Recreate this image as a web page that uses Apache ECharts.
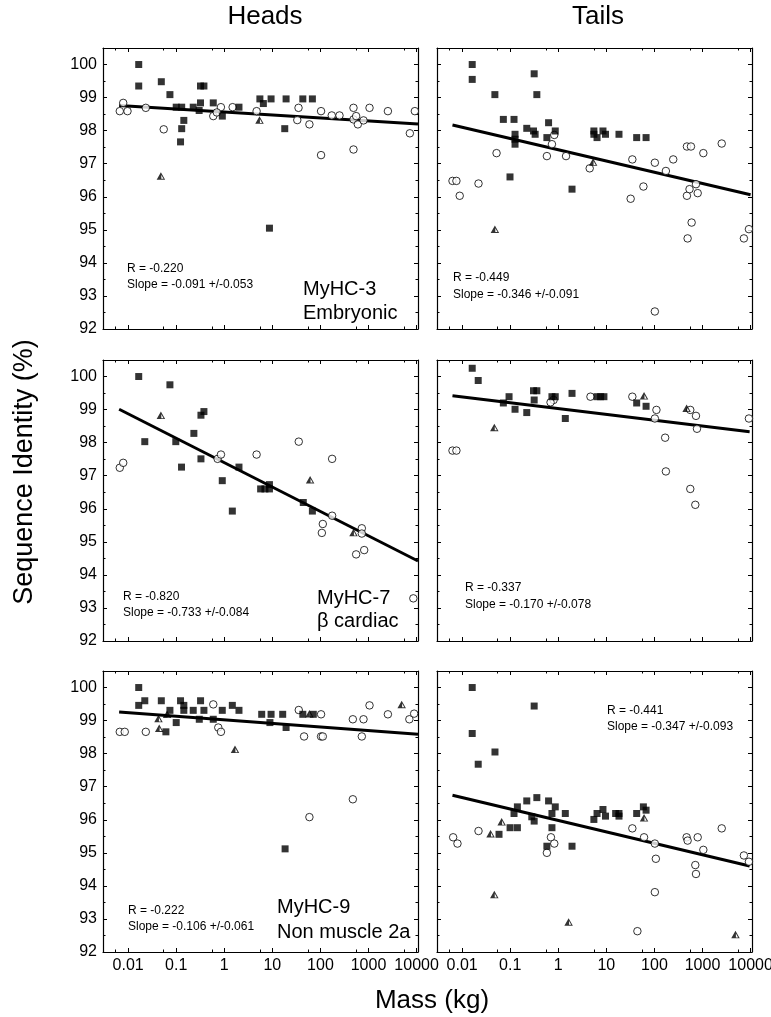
<!DOCTYPE html>
<html>
<head>
<meta charset="utf-8">
<title>Sequence identity vs mass</title>
<script src="https://cdn.jsdelivr.net/npm/echarts@6/dist/echarts.min.js"></script>
<style>
html, body { margin: 0; padding: 0; background: #fff; }
#chart { width: 771px; height: 1017px; }
</style>
</head>
<body>
<div id="chart"></div>
<script>
// values: [mass (kg), sequence identity (%)]

// MyHC-3 heads
var heads3Squares = [[0.0166,100.0],[0.0166,99.35],[0.049,99.48],[0.074,99.09],[0.10,98.71],[0.13,98.71],[0.13,98.06],[0.123,97.66],[0.144,98.31],[0.226,98.71],[0.30,98.61],[0.32,98.84],[0.32,99.35],[0.377,99.35],[0.59,98.84],[0.91,98.44],[2.02,98.71],[5.5,98.96],[6.5,98.82],[9.4,98.96],[8.7,95.05],[19.3,98.96],[18.1,98.06],[43,98.96],[68,98.96]];
var heads3Circles = [[0.0067,98.59],[0.0079,98.84],[0.0097,98.59],[0.0233,98.69],[0.055,98.04],[0.59,98.44],[0.85,98.71],[0.70,98.55],[1.49,98.71],[4.7,98.59],[35,98.69],[33,98.32],[59,98.19],[103,98.59],[103,97.26],[172,98.46],[249,98.46],[487,98.69],[487,98.34],[487,97.43],[553,98.44],[600,98.19],[787,98.31],[1050,98.69],[2530,98.59],[7240,97.92],[9200,98.59]];
var heads3Triangles = [[0.048,96.63],[5.4,98.32]];
var heads3Fit = [[0.0065,98.76],[10700,98.2]];

// MyHC-3 tails
var tails3Squares = [[0.0162,100.0],[0.0162,99.55],[0.048,99.09],[0.072,98.34],[0.12,98.34],[0.099,96.60],[0.126,97.89],[0.126,97.74],[0.126,97.59],[0.221,98.07],[0.305,97.99],[0.315,99.72],[0.33,97.89],[0.358,99.09],[0.628,98.24],[0.579,97.79],[0.865,97.99],[1.93,96.23],[5.5,97.99],[6.4,97.79],[5.5,97.89],[8.5,97.99],[9.6,97.89],[18.3,97.89],[42.7,97.79],[67,97.79]];
var tails3Circles = [[0.0063,96.48],[0.0076,96.48],[0.0089,96.03],[0.0219,96.40],[0.052,97.32],[0.579,97.23],[0.738,97.59],[0.825,97.87],[1.45,97.23],[4.5,96.86],[32,95.94],[34.7,97.13],[59,96.31],[102,97.03],[102,92.53],[173,96.78],[246,97.13],[474,97.52],[575,97.52],[474,96.03],[537,96.23],[594,95.22],[490,94.74],[731,96.38],[794,96.11],[1040,97.32],[2510,97.61],[7260,94.74],[9230,95.02]];
var tails3Triangles = [[0.048,95.02],[5.3,97.05]];
var tails3Fit = [[0.0063,98.17],[10000,96.06]];

// MyHC-7 heads
var heads7Squares = [[0.0166,100.0],[0.074,99.75],[0.0222,98.03],[0.098,98.03],[0.129,97.26],[0.233,98.28],[0.327,98.83],[0.377,98.94],[0.327,97.51],[0.908,96.85],[1.47,95.93],[2.02,97.26],[5.7,96.6],[7.0,96.6],[8.7,96.73],[8.7,96.6],[44,96.19],[68,95.93]];
var heads7Circles = [[0.0067,97.24],[0.0079,97.39],[0.726,97.51],[0.853,97.64],[4.7,97.64],[35.4,98.03],[175,97.51],[175,95.79],[112,95.54],[107,95.27],[553,94.62],[726,95.41],[726,95.25],[813,94.75],[8560,93.29]];
var heads7Triangles = [[0.048,98.83],[61,96.88],[487,95.28]];
var heads7Fit = [[0.0065,99.01],[10700,94.42]];

// MyHC-7 tails
var tails7Squares = [[0.0162,100.25],[0.0216,99.88],[0.072,99.20],[0.0946,99.39],[0.126,99.01],[0.221,98.91],[0.305,99.57],[0.358,99.57],[0.315,99.29],[0.738,99.39],[0.865,99.39],[1.40,98.73],[1.93,99.49],[6.4,99.39],[7.6,99.39],[8.9,99.39],[42.7,99.20],[67,99.10]];
var tails7Circles = [[0.0063,97.76],[0.0076,97.76],[0.798,99.29],[0.69,99.22],[4.67,99.39],[34.7,99.39],[110,98.99],[102,98.73],[167,98.15],[173,97.13],[557,98.99],[731,98.81],[767,98.42],[557,96.60],[708,96.12],[9230,98.73]];
var tails7Triangles = [[0.0467,98.46],[60.8,99.42],[467,99.04]];
var tails7Fit = [[0.0063,99.42],[9550,98.33]];

// MyHC-9 heads
var heads9Squares = [[0.0166,100.0],[0.0166,99.46],[0.0222,99.60],[0.049,99.60],[0.061,98.66],[0.074,99.31],[0.10,98.94],[0.123,99.60],[0.144,99.46],[0.144,99.31],[0.226,99.31],[0.321,99.60],[0.302,99.04],[0.377,99.31],[0.59,99.04],[0.908,99.31],[1.47,99.46],[2.02,99.31],[6.0,99.19],[9.4,99.19],[8.9,98.94],[16.4,99.19],[19.3,98.79],[18.4,95.12],[43,99.19],[71,99.19]];
var heads9Circles = [[0.0067,98.66],[0.0085,98.66],[0.0233,98.66],[0.59,99.49],[0.75,98.79],[0.853,98.66],[35.4,99.32],[45.7,98.52],[103,99.19],[103,98.52],[112,98.52],[59,96.08],[472,99.04],[472,96.62],[787,99.04],[726,98.52],[1050,99.46],[2530,99.19],[7070,99.04],[8900,99.21]];
var heads9Triangles = [[0.0428,99.06],[0.0443,98.77],[0.0646,99.19],[1.67,98.13],[59,99.21],[4900,99.49]];
var heads9Fit = [[0.0065,99.26],[10700,98.59]];

// MyHC-9 tails
var tails9Squares = [[0.0162,100.0],[0.0162,98.61],[0.0216,97.68],[0.0482,98.05],[0.315,99.44],[0.0585,95.56],[0.0993,95.76],[0.141,95.76],[0.120,96.19],[0.141,96.39],[0.221,96.57],[0.281,96.09],[0.315,95.96],[0.358,96.67],[0.628,96.57],[0.738,96.19],[0.865,96.39],[0.738,95.76],[0.579,95.20],[1.40,96.19],[1.93,95.20],[5.5,96.01],[6.4,96.19],[8.5,96.31],[9.6,96.11],[15.6,96.19],[18.3,96.19],[18.3,96.11],[42.7,96.19],[58.9,96.39],[67,96.29]];
var tails9Circles = [[0.0065,95.47],[0.008,95.28],[0.0219,95.66],[0.703,95.47],[0.825,95.28],[0.579,95.0],[34.7,95.74],[60.8,95.47],[102,95.28],[107,94.82],[102,93.81],[44.2,92.63],[467,95.47],[490,95.37],[794,95.47],[708,94.63],[731,94.36],[1040,95.09],[2510,95.74],[7260,94.92],[9230,94.73]];
var tails9Triangles = [[0.039,95.58],[0.0664,95.94],[0.0467,93.74],[1.64,92.91],[60.8,96.06],[4850,92.53]];
var tails9Fit = [[0.0063,96.74],[9550,94.60]];

var columnTitles = ['Heads', 'Tails'];
var rStats = ['R = -0.220', 'R = -0.449', 'R = -0.820', 'R = -0.337', 'R = -0.222', 'R = -0.441'];
var slopeStats = ['Slope = -0.091 +/-0.053', 'Slope = -0.346 +/-0.091', 'Slope = -0.733 +/-0.084',
                  'Slope = -0.170 +/-0.078', 'Slope = -0.106 +/-0.061', 'Slope = -0.347 +/-0.093'];
var geneLabels = [['MyHC-3', 'Embryonic'], ['MyHC-7', 'β cardiac'], ['MyHC-9', 'Non muscle 2a']];

var panels = [
	{squares: heads3Squares, circles: heads3Circles, triangles: heads3Triangles, fit: heads3Fit},
	{squares: tails3Squares, circles: tails3Circles, triangles: tails3Triangles, fit: tails3Fit},
	{squares: heads7Squares, circles: heads7Circles, triangles: heads7Triangles, fit: heads7Fit},
	{squares: tails7Squares, circles: tails7Circles, triangles: tails7Triangles, fit: tails7Fit},
	{squares: heads9Squares, circles: heads9Circles, triangles: heads9Triangles, fit: heads9Fit},
	{squares: tails9Squares, circles: tails9Circles, triangles: tails9Triangles, fit: tails9Fit}
];

var FONT = '"Liberation Sans", Arial, Helvetica, sans-serif';
var colLeft = [103, 437];
var colWidth = 315;
var rowTop = [48, 360, 671];
var rowHeight = 281;

// half filled triangle: black left half, open right half with outline
var triPath = 'path://M5,0L10,10L0,10Z M5.5,3.7L5.5,8.9L8.1,8.9Z';

var statPos = [[127, 269, 285], [453, 278, 295], [123, 597, 613], [465, 588, 605], [128, 911, 927], [607, 711, 727]];
var genePos = [[303, 289, 313], [317, 598, 621], [277, 907, 932]];

function fmtMass(v) {
	return String(+Number(v).toPrecision(3));
}

var grids = [], xAxes = [], yAxes = [], series = [];
var black = '#000';

panels.forEach(function(p, i) {
	var row = Math.floor(i / 2), col = i % 2;
	grids.push({left: colLeft[col], top: rowTop[row], width: colWidth, height: rowHeight,
		containLabel: false, outerBoundsMode: 'none'});

	['bottom', 'top'].forEach(function(pos) {
		xAxes.push({
			gridIndex: i, type: 'log', logBase: 10, min: 0.003, max: 10700, position: pos,
			axisLine: {show: true, onZero: false, lineStyle: {color: black, width: 1.2}},
			axisTick: {show: true, inside: true, length: 4, lineStyle: {color: black, width: 1}},
			minorTick: {show: true, splitNumber: 2, length: 2.5, lineStyle: {color: black, width: 1}},
			splitLine: {show: false},
			axisLabel: {show: pos === 'bottom' && row === 2, interval: 0, showMinLabel: false, showMaxLabel: false,
				fontFamily: FONT, fontSize: 16, color: black, margin: 6, formatter: fmtMass}
		});
	});
	['left', 'right'].forEach(function(pos) {
		yAxes.push({
			gridIndex: i, type: 'value', min: 92, max: 100.5, interval: 1, position: pos,
			axisLine: {show: true, onZero: false, lineStyle: {color: black, width: 1.2}},
			axisTick: {show: true, inside: true, length: 4, lineStyle: {color: black, width: 1}},
			minorTick: {show: true, splitNumber: 2, length: 2.5, lineStyle: {color: black, width: 1}},
			splitLine: {show: false},
			axisLabel: {show: pos === 'left' && col === 0, showMaxLabel: false,
				fontFamily: FONT, fontSize: 16, color: black, margin: 6,
				formatter: function(v) { return v % 1 === 0 ? String(v) : ''; }}
		});
	});

	var xi = 2 * i, yi = 2 * i;
	series.push({type: 'line', xAxisIndex: xi, yAxisIndex: yi, data: p.fit, symbol: 'none',
		lineStyle: {color: black, width: 3}, z: 2, silent: true});
	series.push({type: 'scatter', xAxisIndex: xi, yAxisIndex: yi, data: p.circles, symbol: 'circle',
		symbolSize: 7.5, itemStyle: {color: '#fff', borderColor: black, borderWidth: 1}, z: 3});
	series.push({type: 'scatter', xAxisIndex: xi, yAxisIndex: yi, data: p.squares, symbol: 'rect',
		symbolSize: 7, itemStyle: {color: black}, z: 4});
	series.push({type: 'scatter', xAxisIndex: xi, yAxisIndex: yi, data: p.triangles, symbol: triPath,
		symbolSize: [8.5, 7.5], itemStyle: {color: black}, z: 5});
});

var graphics = [];
function addText(txt, x, y, size, align, rot) {
	graphics.push({type: 'text', x: x, y: y, rotation: rot || 0, silent: true,
		style: {text: txt, fontFamily: FONT, fontSize: size, fill: black,
			align: align || 'left', verticalAlign: 'middle'}});
}
addText(columnTitles[0], 265, 17, 26, 'center');
addText(columnTitles[1], 598, 17, 26, 'center');
addText('Mass (kg)', 432, 1001, 26, 'center');
addText('Sequence Identity (%)', 25, 472, 27, 'center', Math.PI / 2);
rStats.forEach(function(t, i) {
	addText(t, statPos[i][0], statPos[i][1], 12);
	addText(slopeStats[i], statPos[i][0], statPos[i][2], 12);
});
geneLabels.forEach(function(g, i) {
	addText(g[0], genePos[i][0], genePos[i][1], 20);
	addText(g[1], genePos[i][0], genePos[i][2], 20);
});

var chart = echarts.init(document.getElementById('chart'), null, {renderer: 'canvas'});
chart.setOption({
	animation: false,
	backgroundColor: '#fff',
	grid: grids,
	xAxis: xAxes,
	yAxis: yAxes,
	series: series,
	graphic: graphics
});
</script>
</body>
</html>
